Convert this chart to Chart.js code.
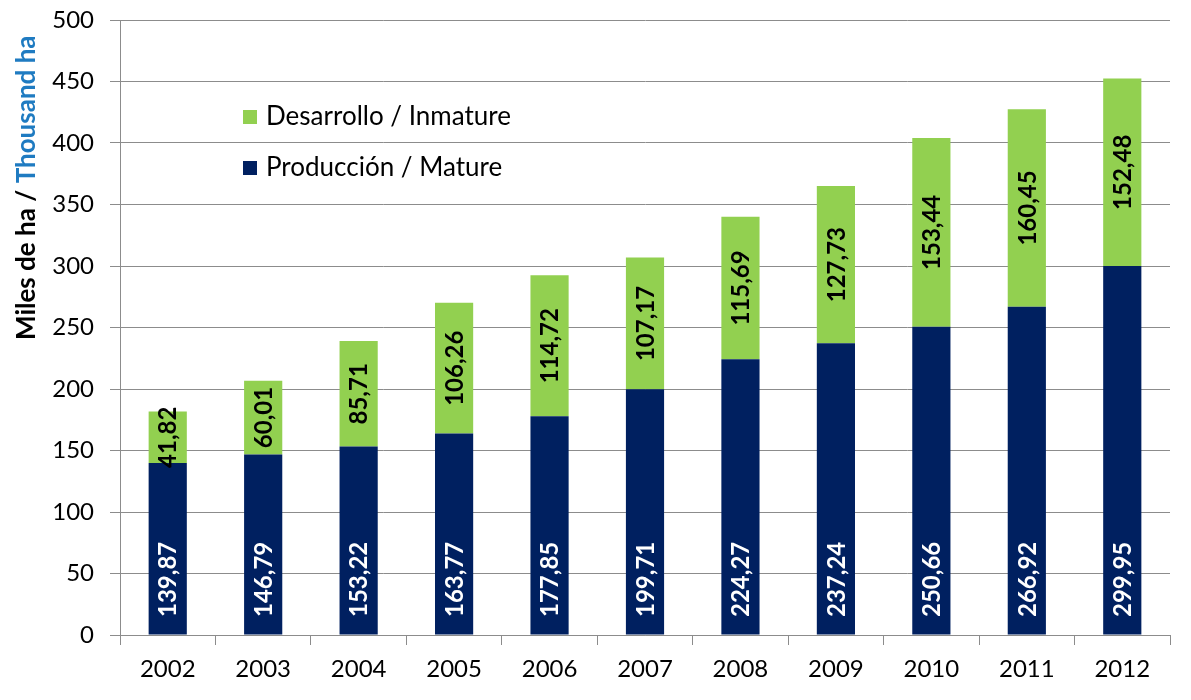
<!DOCTYPE html>
<html>
<head>
<meta charset="utf-8">
<script src="https://cdn.jsdelivr.net/npm/chart.js@4/dist/chart.umd.min.js"></script>
<style>
  html, body { margin: 0; padding: 0; background: #ffffff; }
  #wrap { width: 1191px; height: 700px; position: relative; }
</style>
</head>
<body>
<div id="wrap"><canvas id="c" width="1191" height="700"></canvas></div>
<script>
const categories = ['2002','2003','2004','2005','2006','2007','2008','2009','2010','2011','2012'];
const matureValues = [139.87,146.79,153.22,163.77,177.85,199.71,224.27,237.24,250.66,266.92,299.95];
const immatureValues = [41.82,60.01,85.71,106.26,114.72,107.17,115.69,127.73,153.44,160.45,152.48];
const matureLabel = 'Producción / Mature';
const immatureLabel = 'Desarrollo / Inmature';
const yTitleBlack = 'Miles de ha / ';
const yTitleBlue = 'Thousand ha';

const FONT = 'Lato, "Open Sans", sans-serif';
const NAVY = '#002060';
const GREEN = '#92D050';
const GRID = '#8c8c8c';

function fmt(v) { return v.toFixed(2).replace('.', ','); }

const labelPlugin = {
  id: 'barLabels',
  afterDatasetsDraw(chart) {
    const ctx = chart.ctx;
    const yScale = chart.scales.y;
    ctx.save();
    ctx.font = 'bold 24px ' + FONT;
    ctx.textBaseline = 'middle';
    const m0 = chart.getDatasetMeta(0);
    m0.data.forEach((bar, i) => {
      ctx.save();
      ctx.translate(bar.x, yScale.getPixelForValue(0) - 18);
      ctx.rotate(-Math.PI / 2);
      ctx.fillStyle = '#ffffff';
      ctx.textAlign = 'left';
      ctx.fillText(fmt(matureValues[i]), 0, 1);
      ctx.restore();
    });
    const m1 = chart.getDatasetMeta(1);
    m1.data.forEach((bar, i) => {
      ctx.save();
      ctx.translate(bar.x, (bar.y + bar.base) / 2);
      ctx.rotate(-Math.PI / 2);
      ctx.fillStyle = '#000000';
      ctx.textAlign = 'center';
      ctx.fillText(fmt(immatureValues[i]), 0, 1);
      ctx.restore();
    });
    ctx.restore();
  },
  afterDraw(chart) {
    const ctx = chart.ctx;
    ctx.save();
    ctx.font = '26px ' + FONT;
    ctx.textBaseline = 'middle';
    ctx.textAlign = 'left';
    const items = [[immatureLabel, GREEN, 117], [matureLabel, NAVY, 168]];
    items.forEach(([t, c, y]) => {
      ctx.fillStyle = c;
      ctx.fillRect(243, y - 7, 14, 14);
      ctx.fillStyle = '#000';
      ctx.fillText(t, 266, y);
    });
    ctx.font = 'bold 26px ' + FONT;
    ctx.translate(27, 340);
    ctx.rotate(-Math.PI / 2);
    ctx.textBaseline = 'middle';
    ctx.fillStyle = '#000';
    ctx.fillText(yTitleBlack, 0, 0);
    const w = ctx.measureText(yTitleBlack).width;
    ctx.fillStyle = '#1F7BC1';
    ctx.fillText(yTitleBlue, w, 0);
    ctx.restore();
  }
};

new Chart(document.getElementById('c'), {
  type: 'bar',
  data: {
    labels: categories,
    datasets: [
      { label: matureLabel, data: matureValues, backgroundColor: NAVY, barPercentage: 0.4, categoryPercentage: 1.0 },
      { label: immatureLabel, data: immatureValues, backgroundColor: GREEN, barPercentage: 0.4, categoryPercentage: 1.0 }
    ]
  },
  options: {
    responsive: false,
    animation: false,
    layout: { padding: { top: 20, right: 21, left: 0, bottom: 0 } },
    plugins: { legend: { display: false }, tooltip: { enabled: false } },
    scales: {
      x: {
        stacked: true,
        grid: { display: true, drawOnChartArea: false, drawTicks: true, tickLength: 10, color: GRID, offset: true },
        border: { display: true, color: GRID },
        ticks: { color: '#000', font: { family: FONT, size: 24 }, padding: 10, maxRotation: 0 },
        afterFit(scale) { scale.height = 65; scale.paddingLeft = 0; scale.paddingRight = 0; }
      },
      y: {
        stacked: true,
        min: 0, max: 500,
        grid: { color: GRID, tickLength: 10, drawTicks: true },
        border: { display: true, color: GRID },
        ticks: { stepSize: 50, color: '#000', font: { family: FONT, size: 24 }, padding: 16 },
        afterFit(scale) { scale.width = 120; scale.paddingTop = 0; scale.paddingBottom = 0; }
      }
    }
  },
  plugins: [labelPlugin]
});
</script>
</body>
</html>
